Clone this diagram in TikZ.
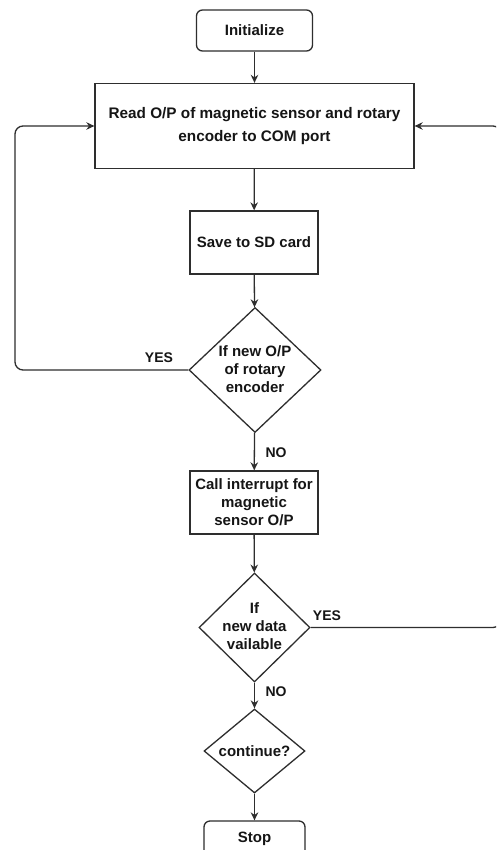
\documentclass[tikz,border=0pt]{standalone}
\usepackage{fontspec}
\setmainfont{Liberation Sans}
\usetikzlibrary{shapes.geometric,arrows.meta}
\definecolor{linec}{HTML}{2E2E2E}
\definecolor{textc}{HTML}{151515}
\begin{document}
\begin{tikzpicture}[x=1pt,y=-1pt,
  proc/.style={draw=linec, line width=1.3pt, rectangle, align=center, inner sep=0pt,
    text=textc, font=\bfseries\fontsize{15}{18}\selectfont},
  term/.style={proc, rounded corners=6pt},
  dia/.style={draw=linec, line width=1.3pt, diamond, inner sep=0pt},
  txt/.style={align=center, inner sep=0pt, text=textc, font=\bfseries\fontsize{15}{18}\selectfont},
  conn/.style={draw=linec, line width=1.3pt, -{Stealth[length=8pt,width=7.5pt]}},
  lbl/.style={inner sep=0pt, text=textc, font=\bfseries\fontsize{14}{16}\selectfont}]
\useasboundingbox (0,0) rectangle (496,850);
\clip (0,0) rectangle (496,850);
\fill[white] (0,0) rectangle (496,850);

\node[term, minimum width=116, minimum height=41] (init) at (254.5,30.5) {Initialize};
\node[proc, minimum width=319, minimum height=85, font=\bfseries\fontsize{15.3}{23}\selectfont] (read) at (254.5,126) {Read O/P of magnetic sensor and rotary\\encoder to COM port};
\node[proc, minimum width=128, minimum height=63] (save) at (254,242.5) {Save to SD card};
\node[dia, minimum width=132, minimum height=125] (d1) at (255,370) {};
\node[txt] (d1t) at (255,369) {If new O/P\\of rotary\\encoder};
\node[proc, minimum width=128, minimum height=63] (call) at (254,502.5) {Call interrupt for\\magnetic\\sensor O/P};
\node[dia, minimum width=111, minimum height=109] (d2) at (254.5,627.5) {};
\node[txt] (d2t) at (254.5,626) {If\\new data\\vailable};
\node[dia, minimum width=101, minimum height=84] (d3) at (254.5,751) {};
\node[txt] (d3t) at (254.5,751) {continue?};
\node[term, minimum width=101, minimum height=36] (stop) at (254.5,839) {Stop};

\coordinate (lx) at (15,0);
\coordinate (rx) at (500,0);

\draw[conn] (init) -- (read);
\draw[conn] (read) -- (save);
\draw[conn] (save) -- (d1);
\draw[conn] (d1) -- (call);
\draw[conn] (call) -- (d2);
\draw[conn] (d2) -- (d3);
\draw[conn] (d3) -- (stop);
\draw[conn, rounded corners=8pt] (d1.west) -- (d1.west -| lx) |- (read.west);
\draw[conn, rounded corners=7pt] (d2.east) -- (d2.east -| rx) |- (read.east);

\node[lbl] (yes1) at (159,358) {YES};
\node[lbl] (no1) at (276,453) {NO};
\node[lbl] (yes2) at (327,616) {YES};
\node[lbl] (no2) at (276,692) {NO};
\end{tikzpicture}
\end{document}
